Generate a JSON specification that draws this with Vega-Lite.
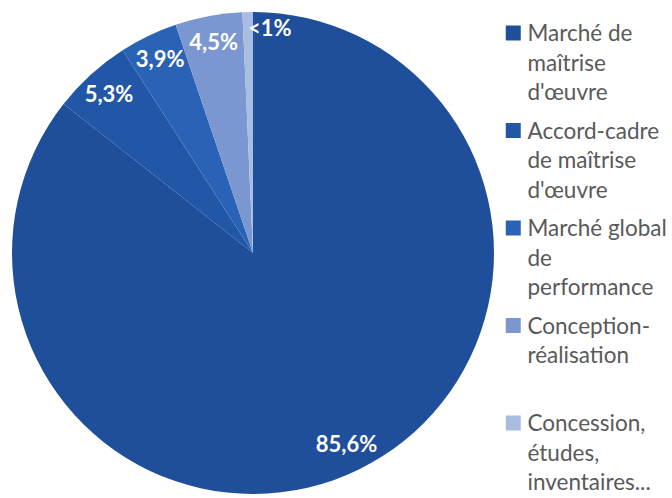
{
  "$schema": "https://vega.github.io/schema/vega-lite/v6.json",
  "width": 506,
  "height": 490,
  "padding": {"left": 0, "top": 8, "right": 0, "bottom": 0},
  "autosize": {"type": "pad"},
  "background": "white",
  "data": {
    "values": [
      {"type": "Marché de\nmaîtrise\nd'œuvre", "value": 85.6, "label": "85,6%", "order": 1},
      {"type": "Accord-cadre\nde maîtrise\nd'œuvre", "value": 5.3, "label": "5,3%", "order": 2},
      {"type": "Marché global\nde\nperformance", "value": 3.9, "label": "3,9%", "order": 3},
      {"type": "Conception-\nréalisation", "value": 4.5, "label": "4,5%", "order": 4},
      {"type": "Concession,\nétudes,\ninventaires...", "value": 0.7, "label": "<1%", "order": 5}
    ]
  },
  "encoding": {
    "theta": {"field": "value", "type": "quantitative", "stack": true},
    "order": {"field": "order", "type": "quantitative"}
  },
  "layer": [
    {
      "mark": {"type": "arc", "outerRadius": 241},
      "encoding": {
        "color": {
          "field": "type",
          "type": "nominal",
          "sort": null,
          "scale": {
            "domain": ["Marché de\nmaîtrise\nd'œuvre", "Accord-cadre\nde maîtrise\nd'œuvre", "Marché global\nde\nperformance", "Conception-\nréalisation", "Concession,\nétudes,\ninventaires..."],
            "range": ["#1f4e9a", "#2257a8", "#2a63b6", "#7b97d2", "#a9bde3"]
          },
          "legend": {
            "orient": "none",
            "legendX": 502,
            "legendY": 4,
            "title": null,
            "symbolType": "M-1,0.3H1V2.3H-1Z",
            "symbolSize": 225,
            "symbolStrokeWidth": 0,
            "labelFontSize": 22.5,
            "labelFont": "Lato",
            "labelColor": "#595959",
            "labelExpr": "split(datum.label, '\\n')",
            "labelBaseline": "top",
            "labelOffset": 3,
            "labelLimit": 300,
            "gridAlign": "all",
            "rowPadding": 4.5,
            "padding": 0
          }
        }
      }
    },
    {
      "mark": {"type": "text", "radius": 214, "font": "Lato", "fontWeight": "bold", "fontSize": 22, "color": "white", "align": "center", "baseline": "middle"},
      "encoding": {
        "text": {"condition": {"test": "datum.order === 5", "value": ""}, "field": "label", "type": "nominal"}
      }
    },
    {
      "mark": {"type": "text", "radius": 224, "font": "Lato", "fontWeight": "bold", "fontSize": 22, "color": "white", "align": "left", "baseline": "middle"},
      "encoding": {
        "text": {"condition": {"test": "datum.order === 5", "field": "label", "type": "nominal"}, "value": ""}
      }
    }
  ],
  "config": {
    "view": {"stroke": null},
    "style": {"guide-label": {"lineHeight": 29.5}}
  }
}
